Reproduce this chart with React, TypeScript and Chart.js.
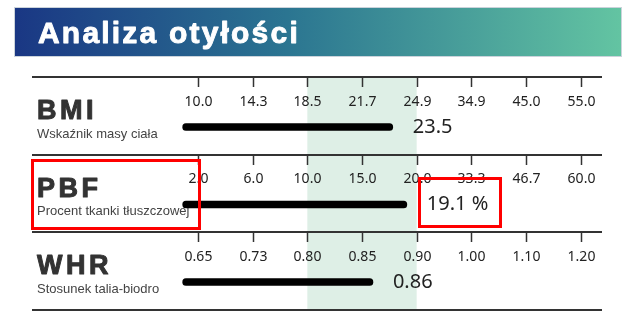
import React, { useEffect, useRef } from "react";
import { Chart, registerables } from "chart.js";

Chart.register(...registerables);

const TITLE = "Analiza otyłości";
const rowCodes = ["BMI", "PBF", "WHR"];
const rowNames = ["Wskaźnik masy ciała", "Procent tkanki tłuszczowej", "Stosunek talia-biodro"];
const bmiTicks = [10.0, 14.3, 18.5, 21.7, 24.9, 34.9, 45.0, 55.0];
const pbfTicks = [2.0, 6.0, 10.0, 15.0, 20.0, 33.3, 46.7, 60.0];
const whrTicks = [0.65, 0.73, 0.8, 0.85, 0.9, 1.0, 1.1, 1.2];
const tickDecimals = [1, 1, 2];
const values = [23.5, 19.1, 0.86];
const valueLabels = ["23.5", "19.1 %", "0.86"];
const normalFrom = 2; // tick index where normal range starts
const normalTo = 4; // tick index where normal range ends
const BAR_START = -0.28; // bar origin, in tick-index units

const allTicks = [bmiTicks, pbfTicks, whrTicks];

function toIndex(v: number, ticks: number[]): number {
  if (v <= ticks[0]) return 0;
  for (let i = 0; i < ticks.length - 1; i++) {
    if (v <= ticks[i + 1]) return i + (v - ticks[i]) / (ticks[i + 1] - ticks[i]);
  }
  return ticks.length - 1;
}

const sheetPlugin = {
  id: "sheet",
  beforeDatasetsDraw(chart: any) {
    const ctx = chart.ctx as CanvasRenderingContext2D;
    const x = chart.scales.x;
    const y = chart.scales.y;
    ctx.save();
    // banner
    const g = ctx.createLinearGradient(15, 0, 621, 0);
    g.addColorStop(0, "#1a3784");
    g.addColorStop(0.45, "#2b7591");
    g.addColorStop(1, "#63c4a2");
    ctx.fillStyle = g;
    ctx.fillRect(15, 8, 606, 48);
    ctx.strokeStyle = "rgba(190,200,210,0.8)";
    ctx.lineWidth = 1;
    ctx.strokeRect(14.5, 7.5, 607, 49);
    ctx.fillStyle = "#ffffff";
    ctx.strokeStyle = "#ffffff";
    ctx.lineWidth = 0.9;
    ctx.lineJoin = "round";
    ctx.font = "bold 30px 'Liberation Sans', Arial, sans-serif";
    (ctx as any).letterSpacing = "2.2px";
    ctx.textBaseline = "alphabetic";
    ctx.textAlign = "left";
    ctx.fillText(TITLE, 38, 43);
    ctx.strokeText(TITLE, 38, 43);
    (ctx as any).letterSpacing = "0px";

    const rowsY = rowCodes.map((_, i) => y.getPixelForValue(i));
    const lineYs = rowsY.map((ry) => Math.round(ry - 50));
    lineYs.push(Math.round(rowsY[rowsY.length - 1] + 28));

    // normal band
    const bx0 = x.getPixelForValue(normalFrom);
    const bx1 = x.getPixelForValue(normalTo);
    ctx.fillStyle = "#deefe6";
    ctx.fillRect(bx0, lineYs[0], bx1 - bx0, lineYs[lineYs.length - 1] - lineYs[0]);

    // horizontal rules
    ctx.strokeStyle = "#333333";
    ctx.lineWidth = 2;
    lineYs.forEach((ly) => {
      ctx.beginPath();
      ctx.moveTo(32, ly);
      ctx.lineTo(602, ly);
      ctx.stroke();
    });

    rowCodes.forEach((code, r) => {
      const ry = rowsY[r];
      const ly = lineYs[r];
      const ticks = allTicks[r];
      // tick marks + labels
      ctx.strokeStyle = "#333333";
      ctx.lineWidth = 1.5;
      ctx.fillStyle = "#222222";
      ctx.font = "14px 'Noto Sans', sans-serif";
      ctx.textAlign = "center";
      ctx.textBaseline = "middle";
      ticks.forEach((t, i) => {
        const tx = Math.round(x.getPixelForValue(i)) + 0.5;
        ctx.beginPath();
        ctx.moveTo(tx, ly);
        ctx.lineTo(tx, ly + 10);
        ctx.stroke();
        ctx.fillText(t.toFixed(tickDecimals[r]), tx, ry - 25);
      });
      // left labels
      ctx.textAlign = "left";
      ctx.fillStyle = "#333333";
      ctx.strokeStyle = "#333333";
      ctx.lineWidth = 1;
      ctx.lineJoin = "round";
      ctx.font = "bold 27px 'Liberation Sans', Arial, sans-serif";
      (ctx as any).letterSpacing = "3.5px";
      ctx.fillText(code, 37, ry - 15);
      ctx.strokeText(code, 37, ry - 15);
      (ctx as any).letterSpacing = "0px";
      ctx.fillStyle = "#444444";
      ctx.font = "13px 'Liberation Sans', Arial, sans-serif";
      ctx.fillText(rowNames[r], 37, ry + 7);
    });
    ctx.restore();
  },
  afterDatasetsDraw(chart: any) {
    const ctx = chart.ctx as CanvasRenderingContext2D;
    const meta = chart.getDatasetMeta(0);
    ctx.save();
    ctx.fillStyle = "#222222";
    ctx.font = "20px 'Noto Sans', sans-serif";
    ctx.textAlign = "left";
    ctx.textBaseline = "middle";
    meta.data.forEach((bar: any, i: number) => {
      ctx.fillText(valueLabels[i], bar.x + 20, bar.y);
    });
    // red annotation boxes
    ctx.strokeStyle = "#ff0000";
    ctx.lineWidth = 3;
    ctx.strokeRect(32.5, 160.5, 167, 68);
    ctx.strokeRect(419.5, 178.5, 81, 48);
    ctx.restore();
  },
};

export default function App() {
  const ref = useRef<HTMLCanvasElement | null>(null);
  useEffect(() => {
    document.body.style.margin = "0";
    const canvas = ref.current!;
    const chart = new Chart(canvas, {
      type: "bar",
      data: {
        labels: rowCodes,
        datasets: [
          {
            data: values.map((v, i) => [BAR_START, toIndex(v, allTicks[i])]) as any,
            backgroundColor: "#000000",
            barThickness: 7,
            borderRadius: 4,
            borderSkipped: false,
            clip: false as any,
          },
        ],
      },
      options: {
        indexAxis: "y",
        responsive: false,
        animation: false,
        devicePixelRatio: 1,
        layout: { padding: { left: 34, right: 24, top: 127, bottom: 35 } },
        scales: {
          x: { type: "linear", min: -3, max: 7.5, display: false },
          y: { type: "category", display: false, offset: false },
        },
        plugins: { legend: { display: false }, tooltip: { enabled: false } },
      },
      plugins: [sheetPlugin],
    });
    return () => chart.destroy();
  }, []);
  return (
    <div style={{ width: 632, height: 317, background: "#fff" }}>
      <canvas ref={ref} width={632} height={317} style={{ display: "block" }} />
    </div>
  );
}
